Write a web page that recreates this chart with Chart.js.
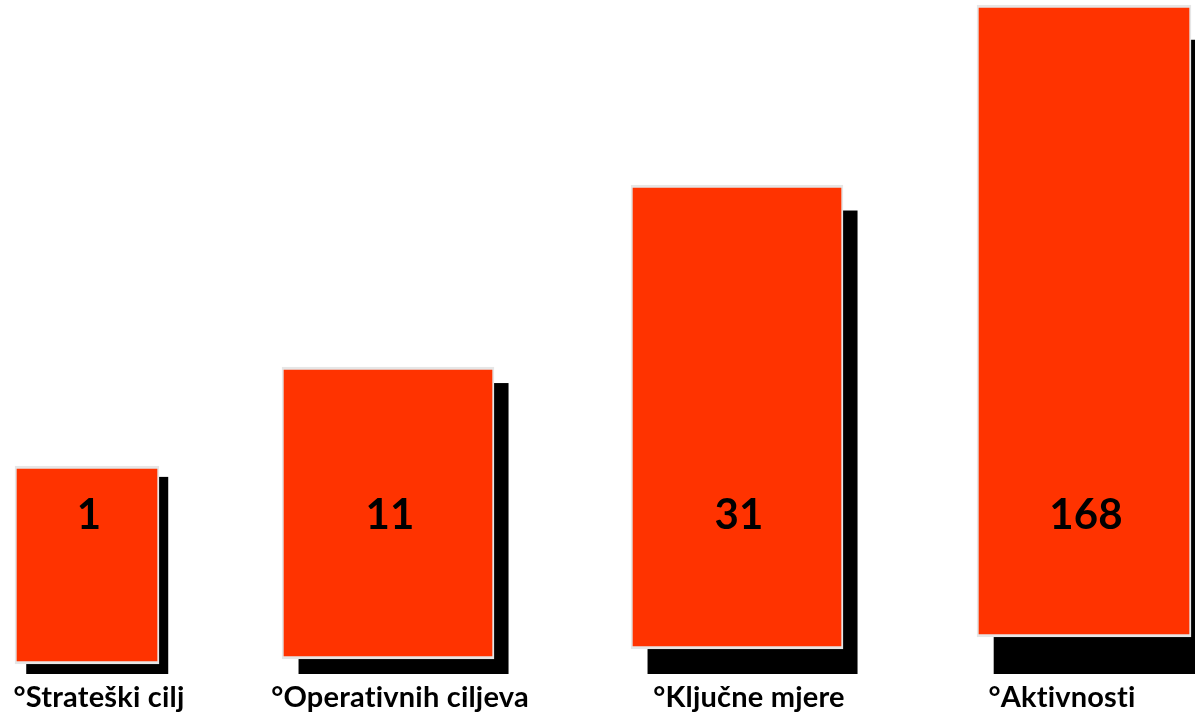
<!DOCTYPE html>
<html>
<head>
<meta charset="utf-8">
<script src="https://cdn.jsdelivr.net/npm/chart.js@4/dist/chart.umd.min.js"></script>
<style>
  html, body { margin: 0; padding: 0; background: #fff; }
  #wrap { width: 1195px; height: 720px; position: relative; }
</style>
</head>
<body>
<div id="wrap"><canvas id="chart" width="1195" height="720"></canvas></div>
<script>
// podaci
const categories = ['°Strateški cilj', '°Operativnih ciljeva', '°Ključne mjere', '°Aktivnosti'];
const counts = [1, 11, 31, 168];
// raspon stupca na osi y (jedinice osi 0-720)
const barLow = [56, 61, 71, 83];
const barHigh = [254, 353, 535, 715];

// raspored (nije podatak)
const slotX = [87, 388, 737, 1084];
const slotWidth = [144, 212, 212, 214];
const labelShift = [12, 12, 12, -22];
const groundLevel = 46;
const numberLevel = 191;
const labelLevel = 13;

const RED = '#ff3300';
const FONT = 'Lato, "Open Sans", sans-serif';

// sjena iza svakog stupca
const shadowPlugin = {
  id: 'shadow',
  beforeDatasetsDraw(chart) {
    const ctx = chart.ctx;
    const ground = chart.scales.y.getPixelForValue(groundLevel);
    ctx.save();
    ctx.fillStyle = '#000';
    chart.data.datasets.forEach((ds, i) => {
      const bar = chart.getDatasetMeta(i).data[0];
      const p = bar.getProps(['x', 'y', 'base', 'width'], true);
      const h = p.base - p.y;
      const dx = p.width * 0.078;
      const dy = h * 0.055;
      const left = p.x - p.width / 2 + dx;
      ctx.fillRect(left, p.y + dy, p.width - 2, ground - p.y - dy);
    });
    ctx.restore();
  }
};

// brojevi u stupcima i nazivi ispod
const textPlugin = {
  id: 'texts',
  afterDatasetsDraw(chart) {
    const ctx = chart.ctx;
    const yScale = chart.scales.y;
    ctx.save();
    ctx.fillStyle = '#000';
    ctx.textAlign = 'center';
    ctx.textBaseline = 'alphabetic';
    ctx.letterSpacing = '0.2px'; // bez "ti" ligature
    chart.data.datasets.forEach((ds, i) => {
      const bar = chart.getDatasetMeta(i).data[0];
      ctx.font = 'bold 42px ' + FONT;
      ctx.fillText(String(counts[i]), bar.x + 2, yScale.getPixelForValue(numberLevel));
      ctx.font = 'bold 29px ' + FONT;
      ctx.fillText(categories[i], bar.x + labelShift[i], yScale.getPixelForValue(labelLevel));
    });
    ctx.restore();
  }
};

const datasets = categories.map((c, i) => ({
  label: c,
  data: [{ x: slotX[i], y: [barLow[i], barHigh[i]] }],
  backgroundColor: RED,
  borderColor: '#e6e6e6',
  borderWidth: { top: 3, bottom: 3, left: 2, right: 2 },
  borderSkipped: false,
  barThickness: slotWidth[i],
  grouped: false,
}));

new Chart(document.getElementById('chart'), {
  type: 'bar',
  data: { datasets },
  options: {
    responsive: false,
    animation: false,
    layout: { padding: 0 },
    plugins: {
      legend: { display: false },
      tooltip: { enabled: false },
    },
    scales: {
      x: { type: 'linear', min: 0, max: 1195, offset: false, display: false },
      y: { min: 0, max: 720, display: false },
    },
  },
  plugins: [shadowPlugin, textPlugin],
});
</script>
</body>
</html>
